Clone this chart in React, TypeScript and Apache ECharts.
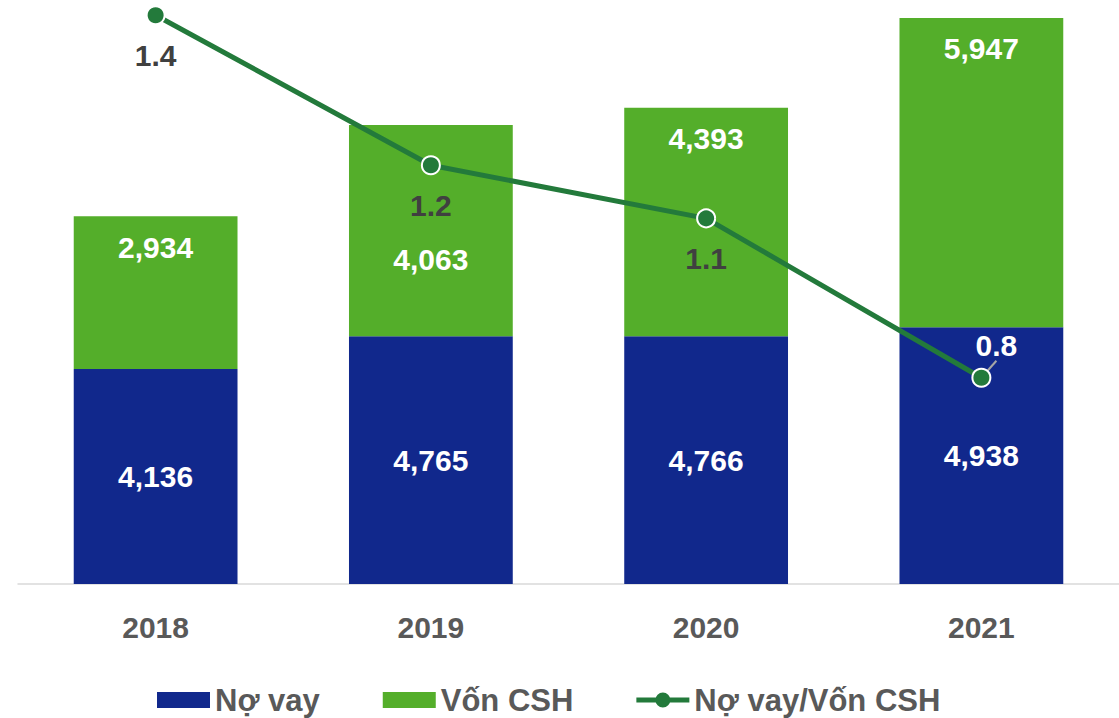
import React, { useEffect, useRef } from "react";
import * as echarts from "echarts";

const years = ["2018", "2019", "2020", "2021"];
const noVay = [4136, 4765, 4766, 4938];
const vonCSH = [2934, 4063, 4393, 5947];
const ratio = [1.41, 1.17, 1.085, 0.83];

const NAVY = "#11288c";
const GREEN = "#54ae2a";
const LINE = "#237a3b";
const FONT = "'Liberation Sans', Arial, sans-serif";

const LINE_ICON =
  "path://M0 5.5 H53 V10.5 H0 Z M19 8 A7.5 7.5 0 1 1 34 8 A7.5 7.5 0 1 1 19 8 Z";

export default function App() {
  const ref = useRef<HTMLDivElement>(null);
  useEffect(() => {
    document.body.style.margin = "0";
    const chart = echarts.init(ref.current!, null, { renderer: "svg" });
    chart.setOption({
      animation: false,
      textStyle: { fontFamily: FONT },
      grid: { left: 18, right: 0, top: 12, bottom: 134, containLabel: false },
      legend: {
        left: 157,
        top: 684,
        padding: 0,
        itemWidth: 53,
        itemHeight: 16,
        itemGap: 63,
        textStyle: {
          color: "#595959",
          fontSize: 31,
          lineHeight: 32,
          fontWeight: "bold",
          fontFamily: FONT,
        },
        data: [
          { name: "Nợ vay", icon: "rect" },
          { name: "Vốn CSH", icon: "rect" },
          { name: "Nợ vay/Vốn CSH", icon: LINE_ICON, itemStyle: { color: LINE, borderWidth: 0 } },
        ],
      },
      xAxis: {
        type: "category",
        data: years,
        axisLine: { lineStyle: { color: "#d9d9d9", width: 1.5 } },
        axisTick: { show: false },
        axisLabel: { color: "#595959", fontSize: 30, fontWeight: "bold", margin: 28, fontFamily: FONT },
      },
      yAxis: [
        { type: "value", min: 0, max: 11000, show: false, splitLine: { show: false } },
        { type: "value", min: 0.5, max: 1.4152, show: false, splitLine: { show: false } },
      ],
      series: [
        {
          name: "Nợ vay",
          type: "bar",
          stack: "a",
          barWidth: "59.5%",
          itemStyle: { color: NAVY },
          label: {
            show: true,
            position: "inside",
            color: "#fff",
            fontSize: 30,
            fontWeight: "bold",
            fontFamily: FONT,
            formatter: (p: any) => p.value.toLocaleString("en-US"),
          },
          data: noVay,
        },
        {
          name: "Vốn CSH",
          type: "bar",
          stack: "a",
          itemStyle: { color: GREEN },
          label: {
            show: true,
            position: "insideTop",
            distance: 16,
            color: "#fff",
            fontSize: 30,
            fontWeight: "bold",
            fontFamily: FONT,
            formatter: (p: any) => p.value.toLocaleString("en-US"),
          },
          data: vonCSH.map((v, i) =>
            i === 1 ? { value: v, label: { position: "insideTop", distance: 120 } } : v
          ),
        },
        {
          name: "Nợ vay/Vốn CSH",
          type: "line",
          yAxisIndex: 1,
          symbol: "circle",
          symbolSize: 18,
          lineStyle: { color: LINE, width: 5 },
          itemStyle: { color: LINE, borderColor: "#fff", borderWidth: 2 },
          label: {
            show: true,
            position: "bottom",
            distance: 15,
            color: "#404040",
            fontSize: 30,
            fontWeight: "bold",
            fontFamily: FONT,
            formatter: (p: any) => p.value.toFixed(1),
          },
          labelLine: { show: false, lineStyle: { color: "#a6a6a6", width: 2 } },
          labelLayout: (p: any) =>
            p.dataIndex === 3 ? { dx: 15, dy: -72 } : {},
          data: ratio.map((v, i) =>
            i === 3
              ? { value: v, label: { color: "#fff" }, labelLine: { show: true, lineStyle: { color: "#a6a6a6", width: 2 } } }
              : { value: v, labelLine: { show: false } }
          ),
        },
      ],
    });
    return () => chart.dispose();
  }, []);
  return <div ref={ref} style={{ width: 1119, height: 718 }} />;
}
